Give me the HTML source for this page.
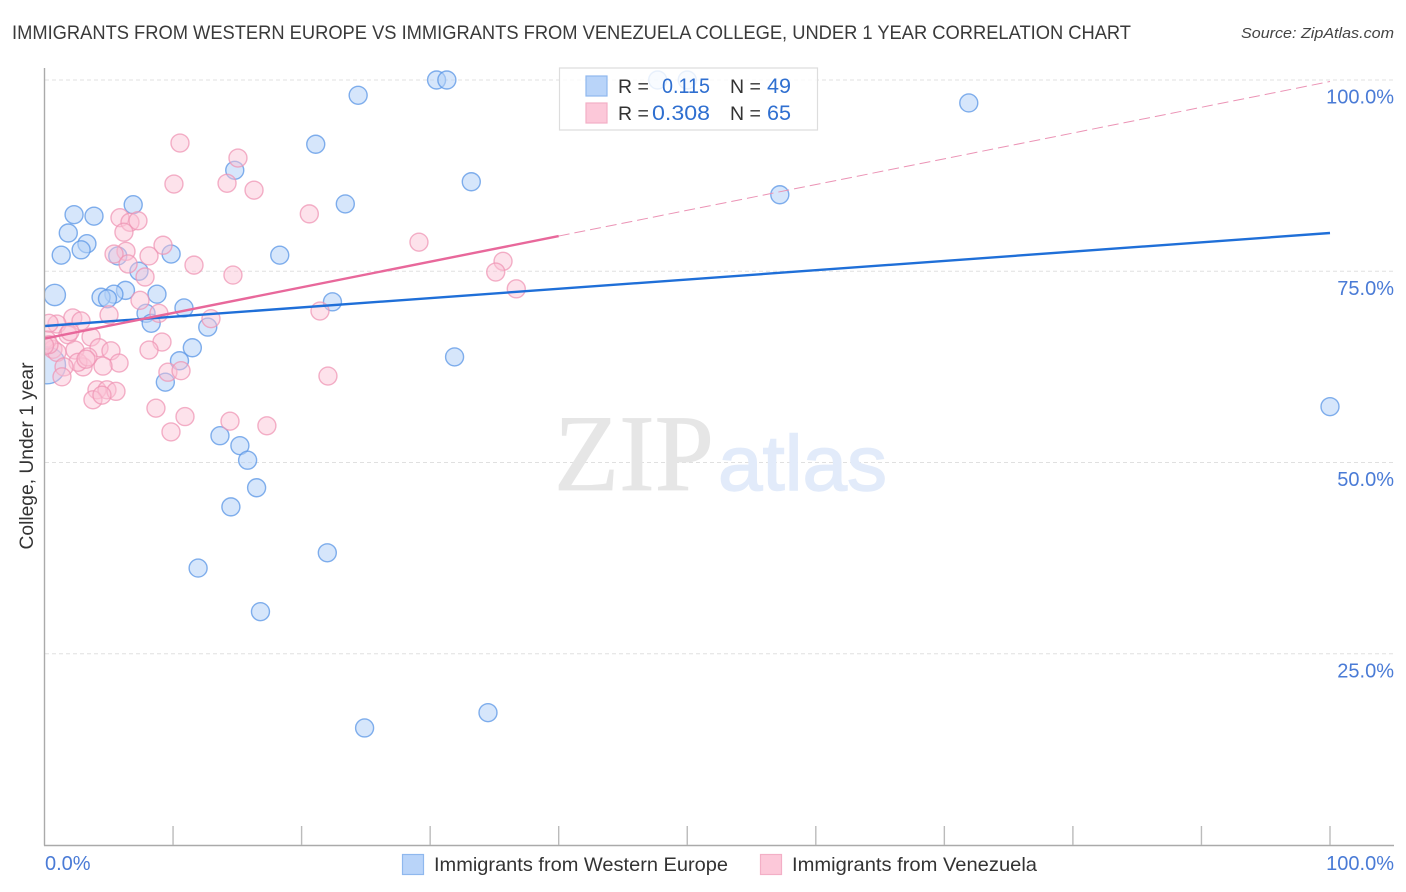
<!DOCTYPE html>
<html lang="en">
<head>
<meta charset="utf-8">
<title>Immigrants from Western Europe vs Immigrants from Venezuela College Correlation Chart</title>
<style>
html,body{margin:0;padding:0;background:#fff;width:1406px;height:892px;overflow:hidden}
svg{display:block;font-family:"Liberation Sans",sans-serif}
</style>
</head>
<body>
<svg id="chart" width="1406" height="892" viewBox="0 0 1406 892" xmlns="http://www.w3.org/2000/svg">
  <defs><clipPath id="plot-clip"><rect x="45" y="60" width="1349" height="785"/></clipPath></defs>
  <rect width="1406" height="892" fill="#fff"/>
  <text x="12" y="39" font-size="19.5" fill="#3a3a3a" textLength="1119" lengthAdjust="spacingAndGlyphs">IMMIGRANTS FROM WESTERN EUROPE VS IMMIGRANTS FROM VENEZUELA COLLEGE, UNDER 1 YEAR CORRELATION CHART</text>
  <text x="1241" y="38" font-size="15" font-style="italic" fill="#444" textLength="153" lengthAdjust="spacingAndGlyphs">Source: ZipAtlas.com</text>
  <g id="grid"></g>
  <g>
    <text x="554" y="490" font-family="'Liberation Serif',serif" font-size="109" fill="#e6e6e6" stroke="#e6e6e6" stroke-width="0.8" textLength="160" lengthAdjust="spacingAndGlyphs">ZIP</text>
    <text x="718" y="490" font-size="78" fill="#e2ebfa" stroke="#e2ebfa" stroke-width="1.4" textLength="169" lengthAdjust="spacingAndGlyphs">atlas</text>
  </g>
  <g id="points" clip-path="url(#plot-clip)"></g>
  <g id="trends" clip-path="url(#plot-clip)"></g>
  <g id="axes"></g>
  <text transform="translate(33,456) rotate(-90)" text-anchor="middle" font-size="19" fill="#333" textLength="187" lengthAdjust="spacingAndGlyphs">College, Under 1 year</text>

  <g>
    <rect x="559.5" y="68" width="258" height="62" fill="#fff" fill-opacity="0.82" stroke="#ddd" stroke-width="1.2"/>
    <rect x="586" y="76" width="21" height="20" fill="#b9d4f9" stroke="#8fb8ee" stroke-width="1.2"/>
    <rect x="586" y="103" width="21" height="20" fill="#fcc8d9" stroke="#f3afc6" stroke-width="1.2"/>
    <text x="618" y="93" font-size="19.5" fill="#333">R =</text>
    <text x="662" y="93" font-size="21" fill="#2f6fd0" textLength="48" lengthAdjust="spacingAndGlyphs">0.115</text>
    <text x="730" y="93" font-size="19.5" fill="#333">N =</text>
    <text x="767" y="93" font-size="21" fill="#2f6fd0" textLength="24" lengthAdjust="spacingAndGlyphs">49</text>
    <text x="618" y="120" font-size="19.5" fill="#333">R =</text>
    <text x="652" y="120" font-size="21" fill="#2f6fd0" textLength="58" lengthAdjust="spacingAndGlyphs">0.308</text>
    <text x="730" y="120" font-size="19.5" fill="#333">N =</text>
    <text x="767" y="120" font-size="21" fill="#2f6fd0" textLength="24" lengthAdjust="spacingAndGlyphs">65</text>
  </g>

  <g>
    <rect x="402.5" y="854.5" width="21" height="20" fill="#b9d4f9" stroke="#8fb8ee" stroke-width="1.2"/>
    <text x="434" y="871" font-size="19.5" fill="#333" textLength="294" lengthAdjust="spacingAndGlyphs">Immigrants from Western Europe</text>
    <rect x="760.5" y="854.5" width="21" height="20" fill="#fcc8d9" stroke="#f3afc6" stroke-width="1.2"/>
    <text x="792" y="871" font-size="19.5" fill="#333" textLength="245" lengthAdjust="spacingAndGlyphs">Immigrants from Venezuela</text>
  </g>
</svg>
<script>
const yTickValues = [100, 75, 50, 25];
const yTickLabels = ['100.0%', '75.0%', '50.0%', '25.0%'];
const xTickValues = [10, 20, 30, 40, 50, 60, 70, 80, 90, 100];
const xEndValues = [0, 100];
const xEndLabels = ['0.0%', '100.0%'];

const westernEuropeX = [30.5,31.3,47.7,50.0,24.4,71.9,21.1,14.8,33.2,57.2,23.4,6.9,2.3,3.85,1.85,3.3,2.85,1.3,9.85,18.3,5.7,7.35,0.8,6.3,8.75,5.4,4.4,4.9,7.9,10.85,22.4,8.3,12.7,11.5,10.5,31.9,9.4,0.2,100,13.65,15.2,15.8,16.5,14.5,22,11.95,16.8,24.9,34.5];
const westernEuropeY = [100,100,100,100,98.0,97.0,91.6,88.2,86.7,85.0,83.8,83.7,82.4,82.2,80.0,78.6,77.8,77.1,77.25,77.1,77,75,71.9,72.5,72,72,71.6,71.4,69.5,70.2,71,68.2,67.7,65,63.3,63.8,60.5,62.7,57.3,53.5,52.2,50.3,46.7,44.2,38.2,36.2,30.5,15.3,17.3];
const westernEuropeWeight = [1,1,1,1,1,1,1,1,1,1,1,1,1,1,1,1,1,1,1,1,1,1,1.4,1,1,1,1,1,1,1,1,1,1,1,1,1,1,4.2,1,1,1,1,1,1,1,1,1,1,1];

const venezuelaX = [10.54,15.05,10.07,14.2,16.3,20.6,5.87,6.65,7.27,6.18,29.13,9.22,6.34,5.41,8.13,11.63,6.5,7.82,14.66,35.67,35.1,36.7,7.43,21.43,8.9,5.02,12.95,2.2,2.84,0.97,0.35,1.83,3.62,2.37,0.66,0.97,4.24,5.17,9.14,8.13,5.8,4.55,3.0,2.6,3.38,3.23,1.52,1.36,9.6,10.62,4.08,4.86,5.56,3.77,4.47,8.67,10.93,9.84,14.43,17.3,22.05,0.2,0.35,0,1.98];
const venezuelaY = [91.76,89.8,86.4,86.5,85.6,82.5,82.0,81.4,81.6,80.1,78.8,78.4,77.6,77.25,77,75.8,75.95,74.25,74.5,76.3,74.9,72.7,71.2,69.8,69.5,69.3,68.8,68.9,68.5,68.1,68.2,66.7,66.4,64.7,64.8,64.4,65,64.6,65.75,64.7,63,62.6,62.5,63.1,63.8,63.5,62.5,61.2,61.8,62,59.5,59.5,59.3,58.2,58.8,57.1,56,54,55.4,54.8,61.3,66,65.4,65.3,67.1];

const westernEuropeTrendX = [0, 100];
const westernEuropeTrendY = [67.84, 80.0];
const venezuelaSolidTrendX = [0, 40];
const venezuelaSolidTrendY = [66.2, 79.6];
const venezuelaDashedTrendX = [40, 100];
const venezuelaDashedTrendY = [79.6, 99.8];

const SVG_NS = 'http://www.w3.org/2000/svg';
const sx = v => 44.5 + v * 12.855;
const sy = v => 845 - v * 7.65;

function make(parent, tag, attrs) {
  const el = document.createElementNS(SVG_NS, tag);
  for (const k in attrs) el.setAttribute(k, attrs[k]);
  parent.appendChild(el);
  return el;
}

const gridG = document.getElementById('grid');
const axesG = document.getElementById('axes');
const pointsG = document.getElementById('points');
const trendsG = document.getElementById('trends');

yTickValues.forEach((v, i) => {
  const line = make(gridG, 'line', {x1: 45, x2: 1394, y1: sy(v), y2: sy(v), stroke: '#e0e0e0', 'stroke-width': 1, 'stroke-dasharray': '4 3'});
  
  
  const label = make(axesG, 'text', {x: 1394, y: sy(v) + 23.5, 'text-anchor': 'end', 'font-size': 20, fill: '#4a7bd6'});
  label.textContent = yTickLabels[i];
  
  
});

const yAxis = make(axesG, 'line', {x1: 44.5, x2: 44.5, y1: 68, y2: 845.5, stroke: '#aaa', 'stroke-width': 1.4});


const xAxis = make(axesG, 'line', {x1: 44, x2: 1394, y1: 845.5, y2: 845.5, stroke: '#aaa', 'stroke-width': 1.4});



xTickValues.forEach(v => {
  const tick = make(axesG, 'line', {x1: sx(v), x2: sx(v), y1: 826, y2: 845, stroke: '#bbb', 'stroke-width': 1.4});
  
  
});

xEndValues.forEach((v, i) => {
  const label = make(axesG, 'text', {x: i === 0 ? 45 : 1394, y: 870, 'text-anchor': i === 0 ? 'start' : 'end', 'font-size': 20, fill: '#4a7bd6'});
  label.textContent = xEndLabels[i];
  
  
});

westernEuropeX.forEach((v, i) => {
  const dot = make(pointsG, 'circle', {cx: sx(v), cy: sy(westernEuropeY[i]), r: 9 * Math.sqrt(westernEuropeWeight[i]), fill: '#b4d1f8', 'fill-opacity': 0.55, stroke: '#5a95e6', 'stroke-opacity': 0.75, 'stroke-width': 1.4});
  
  
});

venezuelaX.forEach((v, i) => {
  const dot = make(pointsG, 'circle', {cx: sx(v), cy: sy(venezuelaY[i]), r: 9, fill: '#fac3d6', 'fill-opacity': 0.48, stroke: '#ef93b3', 'stroke-opacity': 0.72, 'stroke-width': 1.4});
  
  
});

const blueTrend = make(trendsG, 'line', {x1: sx(westernEuropeTrendX[0]), y1: sy(westernEuropeTrendY[0]), x2: sx(westernEuropeTrendX[1]), y2: sy(westernEuropeTrendY[1]), stroke: '#1f6fd8', 'stroke-width': 2.4});



const pinkTrend = make(trendsG, 'line', {x1: sx(venezuelaSolidTrendX[0]), y1: sy(venezuelaSolidTrendY[0]), x2: sx(venezuelaSolidTrendX[1]), y2: sy(venezuelaSolidTrendY[1]), stroke: '#e8689b', 'stroke-width': 2.4});



const pinkDashed = make(trendsG, 'line', {x1: sx(venezuelaDashedTrendX[0]), y1: sy(venezuelaDashedTrendY[0]), x2: sx(venezuelaDashedTrendX[1]), y2: sy(venezuelaDashedTrendY[1]), stroke: '#eb93b5', 'stroke-width': 1, 'stroke-dasharray': '11 5'});


</script>
</body>
</html>
